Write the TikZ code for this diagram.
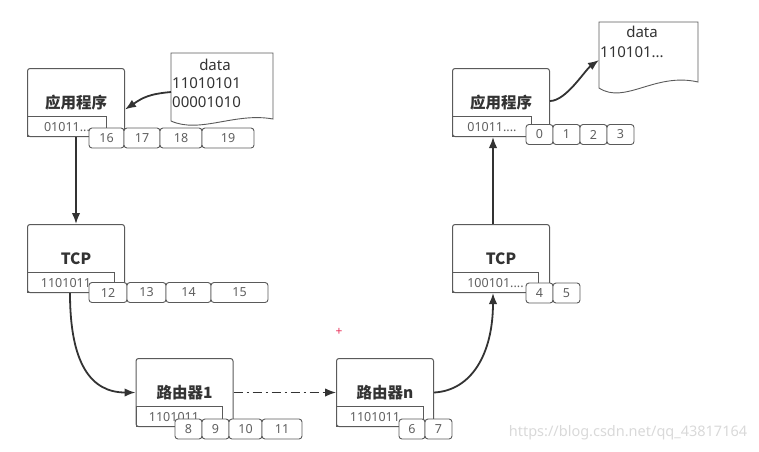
\documentclass[tikz,border=0pt]{standalone}
\usepackage{fontspec}
\setmainfont{Noto Sans}
\newfontfamily\cjk{Noto Sans CJK SC}
\usepackage{tikz}
\usetikzlibrary{calc,arrows.meta}

\definecolor{boxline}{HTML}{5A5A5A}
\definecolor{wire}{HTML}{333333}
\definecolor{inktext}{HTML}{333333}
\definecolor{softtext}{HTML}{606060}
\definecolor{cursorred}{HTML}{E8305A}

\begin{document}
\begin{tikzpicture}[x=1pt,y=-1pt,
    layer/.style={draw=boxline, line width=1pt, rounded corners=2.5pt, fill=white,
      minimum width=97, minimum height=68, inner sep=0pt, text=inktext,
      font=\cjk\bfseries\fontsize{15.5}{18}\selectfont},
    strip/.style={draw=boxline, line width=0.9pt, anchor=south west, minimum height=20,
      inner sep=0pt, text=softtext, font=\fontsize{12.5}{14}\selectfont},
    cell/.style={draw=boxline, line width=0.9pt, rounded corners=3pt, fill=white,
      minimum height=20, inner sep=0pt, text=softtext, font=\fontsize{12.5}{14}\selectfont},
    doc/.style={draw=boxline, line width=0.9pt, fill=white},
    doctext/.style={inner sep=0pt, text=inktext, font=\fontsize{15}{18}\selectfont},
    conn/.style={draw=wire, line width=1.8pt, -{Latex[length=11pt,width=8.5pt]}}]
  \useasboundingbox (0,0) rectangle (759,451);

  %% Sending side: data document
  \path[doc] (171,53) -- (273,53) -- (273,119)
    .. controls (235,112) and (200,134) .. (171,121) -- cycle;
  \node[doctext] (dataL) at (215,65) {data};
  \node[doctext, anchor=west] (bitsL1) at (172,83) {11010101};
  \node[doctext, anchor=west] (bitsL2) at (172,102) {00001010};
  \coordinate (docL) at (171,92);

  %% Receiving side: data document
  \path[doc] (599,22) -- (698,22) -- (698,82)
    .. controls (655,72) and (625,105) .. (599,88) -- cycle;
  \node[doctext] (dataR) at (642,32) {data};
  \node[doctext, anchor=west] (bitsR) at (600,52) {110101...};
  \coordinate (docR) at (599,60);

  %% Layer boxes
  \node[layer] (appL) at (76,102.5) {应用程序};
  \node[layer] (tcpL) at (76,258.5) {TCP};
  \node[layer] (r1)   at (184.5,392.5) {路由器1};
  \node[layer] (rn)   at (385,392.5) {路由器n};
  \node[layer] (tcpR) at (501,258.5) {TCP};
  \node[layer] (appR) at (501,102.5) {应用程序};

  %% Header strips inside the boxes
  \node[strip, minimum width=79] (sAppL) at (appL.south west) {01011...};
  \node[strip, minimum width=87] (sTcpL) at (tcpL.south west) {1101011...};
  \node[strip, minimum width=86] (sR1)   at (r1.south west)   {1101011...};
  \node[strip, minimum width=87] (sRn)   at (rn.south west)   {1101011...};
  \node[strip, minimum width=86] (sTcpR) at (tcpR.south west) {100101....};
  \node[strip, minimum width=79] (sAppR) at (appR.south west) {01011....};

  %% Byte cells: number/left/right/middle
  \foreach \n/\a/\b/\m in {16/89/124/138,17/124/160/138,18/160/202/138,19/202/254/138,
      12/89/127/292.5,13/127/166/292.5,14/166/211/292.5,15/211/268/292.5,
      8/175/202/429,9/202/229/429,10/229/262/429,11/262/302/429,
      6/399/425/429,7/425/452/429,
      4/526/553/293,5/553/580/293,
      0/526/553/134.5,1/553/580/134.5,2/580/607/134.5,3/607/634/134.5}
  {
    \node[cell, minimum width=\b-\a] (c\n) at ({(\a+\b)/2},\m) {\n};
  }

  %% Connectors
  \draw[conn] (docL) .. controls +(-22,2) and +(18,-12) .. ($(appL.east)+(0,7)$);
  \draw[conn] (appL.south) -- (tcpL.north);
  \draw[conn] ($(tcpL.south)+(-6,0)$) .. controls +(0,70) and +(-45,0) .. (r1.west);
  \draw[conn, line width=1.5pt, dash pattern=on 9pt off 4pt on 2pt off 4pt] (r1.east) -- (rn.west);
  \draw[conn] (rn.east) .. controls +(38,-2) and +(0,60) .. ($(tcpR.south)+(-8,0)$);
  \draw[conn] ($(tcpR.north)+(-8,0)$) -- ($(appR.south)+(-8,0)$);
  \draw[conn] ($(appR.east)+(0,-1.5)$) .. controls +(16,0) and +(-14,10) .. (docR);

  %% Marks on the screenshot
  \node[text=cursorred, inner sep=0pt, font=\bfseries\fontsize{12}{12}\selectfont] (cursor) at (339,332) {+};
  \node[text=black!15, inner sep=0pt, font=\fontsize{14.5}{16}\selectfont] (wm) at (628,433) {https://blog.csdn.net/qq\_43817164};
\end{tikzpicture}
\end{document}
